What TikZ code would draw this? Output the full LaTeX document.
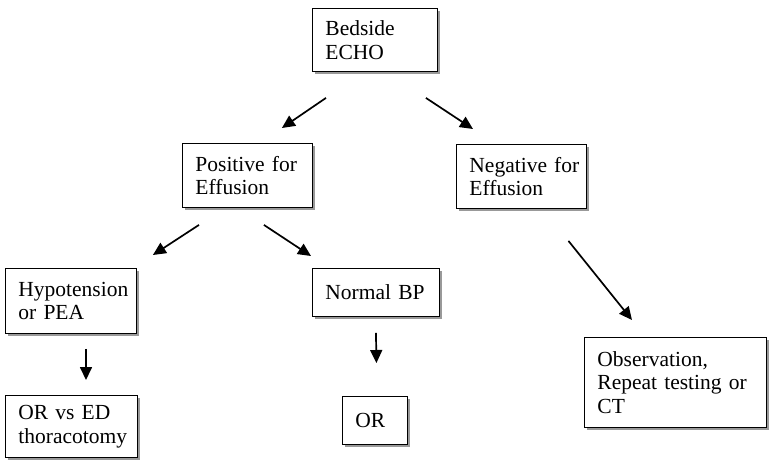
\documentclass[tikz,border=0pt]{standalone}
\usepackage{fontspec}
\setmainfont{Liberation Serif}
\usetikzlibrary{arrows.meta,shadows}

\begin{document}
\begin{tikzpicture}[x=1pt, y=-1pt,
    box/.style={draw, line width=0.9pt, fill=white, anchor=north west,
        inner xsep=13pt, inner ysep=0pt, align=left,
        font=\fontsize{21.5}{23.5}\selectfont,
        drop shadow={shadow xshift=3pt, shadow yshift=-3pt, fill=black!40, opacity=1}},
    arr/.style={-{Triangle[length=13pt, width=12pt]}, line width=1.7pt}]
    \useasboundingbox (0,0) rectangle (773,464);

    % boxes, placed by their top left corner
    \node[box, text width=99pt, minimum height=63pt] (echo) at (312,8) {Bedside\\ECHO};
    \node[box, text width=104pt, minimum height=64pt] (pos) at (182,143) {Positive~for\\Effusion};
    \node[box, text width=104pt, minimum height=64pt] (neg) at (456,144) {Negative~for\\Effusion};
    \node[box, text width=105pt, minimum height=65pt] (hyp) at (5,268) {Hypotension\\or~PEA};
    \node[box, text width=101pt, minimum height=48pt] (nbp) at (312,268) {Normal~BP};
    \node[box, text width=106pt, minimum height=62pt] (orvs) at (5,395) {OR~vs~ED\\thoracotomy};
    \node[box, text width=39pt, minimum height=48pt] (or) at (342,396) {OR};
    \node[box, text width=156pt, minimum height=90pt] (obs) at (584,337) {Observation,\\Repeat~testing~or\\CT};

    % arrows stand clear of the boxes
    \draw[arr] ([shift={(14,26)}]echo.south west) -- ([shift={(-31,-15)}]pos.north east);
    \draw[arr] ([shift={(-12,26)}]echo.south east) -- ([shift={(17,-15)}]neg.north west);
    \draw[arr] ([shift={(17,17)}]pos.south west) -- ([shift={(16,-13)}]hyp.north east);
    \draw[arr] ([shift={(-49,17)}]pos.south east) -- ([shift={(-1,-12)}]nbp.north west);
    \draw[arr] ([shift={(47,32)}]neg.south) -- ([shift={(48,-17)}]obs.north west);
    \draw[arr] ([shift={(81,15)}]hyp.south west) -- ([shift={(81,-15)}]orvs.north west);
    \draw[arr] ([shift={(0,16)}]nbp.south) -- ([shift={(1.5,-33)}]or.north);
\end{tikzpicture}
\end{document}
